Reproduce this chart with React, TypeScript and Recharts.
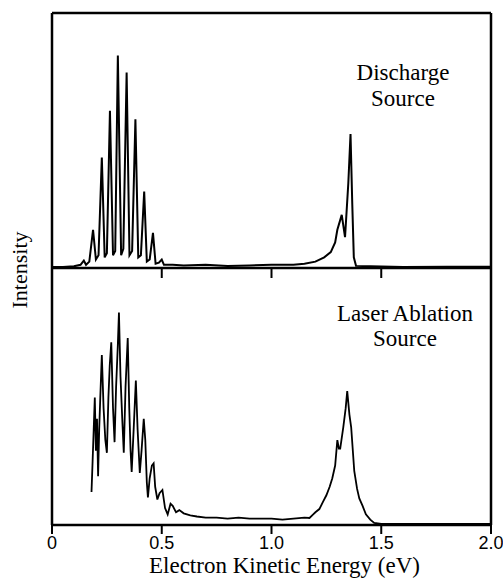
import { LineChart, Line, XAxis, YAxis, ReferenceLine, Label } from "recharts";

// energies in eV, intensities in arbitrary units (tallest peak = 100)
const dischargeEnergy = [
  0, 0.05, 0.1, 0.13, 0.145, 0.155, 0.17, 0.187, 0.2, 0.212, 0.227, 0.24, 0.25,
  0.264, 0.278, 0.288, 0.3, 0.315, 0.325, 0.34, 0.353, 0.365, 0.38, 0.393, 0.405,
  0.42, 0.432, 0.445, 0.46, 0.472, 0.487, 0.5, 0.51, 0.55, 0.6, 0.7, 0.8, 0.9,
  1.0, 1.1, 1.15, 1.2, 1.24, 1.27, 1.29, 1.3, 1.32, 1.335, 1.35, 1.36, 1.368,
  1.375, 1.385, 1.45, 1.6, 1.8, 2.0,
];
const dischargeIntensity = [
  0.5, 0.5, 0.8, 1.5, 3.5, 1.5, 3, 18, 4, 6, 52, 5, 7, 74, 6, 8, 100, 6, 9, 92,
  6, 8, 70, 5, 6, 36, 3, 4, 16.5, 2, 2.5, 4, 1.5, 1.5, 1.2, 1.5, 1.0, 1.2, 1.5,
  1.5, 2, 3, 5, 7.5, 12, 18, 25, 14.5, 40, 63, 30, 5, 1, 0.8, 0.5, 0.6, 0.6,
];

const ablationEnergy = [
  0.18, 0.185, 0.19, 0.195, 0.2, 0.205, 0.21, 0.215, 0.22, 0.227, 0.235, 0.243,
  0.25, 0.257, 0.263, 0.27, 0.278, 0.285, 0.292, 0.3, 0.305, 0.312, 0.32, 0.327,
  0.335, 0.345, 0.352, 0.358, 0.363, 0.372, 0.382, 0.39, 0.4, 0.408, 0.418,
  0.425, 0.432, 0.437, 0.445, 0.455, 0.463, 0.47, 0.48, 0.49, 0.503, 0.515,
  0.527, 0.54, 0.55, 0.565, 0.58, 0.6, 0.63, 0.66, 0.7, 0.75, 0.8, 0.85, 0.9,
  0.95, 1.0, 1.05, 1.1, 1.15, 1.173, 1.19, 1.2, 1.218, 1.235, 1.25, 1.265,
  1.277, 1.29, 1.3, 1.307, 1.313, 1.327, 1.338, 1.345, 1.355, 1.363, 1.377,
  1.39, 1.4, 1.415, 1.43, 1.45, 1.468, 1.5, 1.6, 1.8, 2.0,
];
const ablationIntensity = [
  15.5, 30, 45, 60, 35, 50, 23, 45, 60, 80, 55, 40, 34, 60, 75, 86, 55, 39, 65,
  85, 100, 70, 50, 34, 65, 88, 55, 35, 25, 45, 68, 45, 24.5, 35, 50, 40, 20, 13,
  22, 28, 29, 18, 12, 15, 16.5, 8, 5, 10, 9, 6, 7, 5.5, 4.5, 4, 3.5, 3.5, 3,
  3.5, 3, 3, 3, 2.5, 3, 3.5, 3.3, 5, 6, 7.5, 11, 14, 18, 22, 28, 40, 36, 36, 46,
  55, 63, 52, 46, 25.5, 17, 12.5, 9, 5, 2.5, 1, 0.5, 0.5, 0.5, 0.5,
];

const xTicks = [0, 0.5, 1, 1.5, 2];
const xTickLabels = ["0", "0.5", "1.0", "1.5", "2.0"];

const dischargeData = dischargeEnergy.map((e, i) => ({ e, v: dischargeIntensity[i] }));
const ablationData = ablationEnergy.map((e, i) => ({ e, v: ablationIntensity[i] }));

const serif = "'Liberation Serif', 'Times New Roman', serif";
const sans = "'Liberation Sans', Arial, sans-serif";
const frame = { stroke: "#000", strokeWidth: 2.5 };

export default function App() {
  return (
    <div style={{ position: "absolute", left: 0, top: 0, width: 503, height: 579, background: "#fff" }}>
      <div style={{ position: "absolute", left: 0, top: 0 }}>
        <LineChart width={503} height={280} data={dischargeData} margin={{ top: 13, right: 12, bottom: 0, left: 52 }}>
          <XAxis
            dataKey="e"
            type="number"
            domain={[0, 2]}
            ticks={xTicks}
            height={12}
            tickSize={10}
            tickFormatter={() => ""}
            axisLine={frame}
            tickLine={{ stroke: "#000", strokeWidth: 2 }}
          />
          <YAxis hide domain={[0, 120]} />
          <ReferenceLine x={0} {...frame} />
          <ReferenceLine x={2} {...frame} />
          <ReferenceLine y={120} {...frame} />
          <Line dataKey="v" type="linear" stroke="#000" strokeWidth={2} dot={false} isAnimationActive={false} />
        </LineChart>
      </div>
      <div style={{ position: "absolute", left: 0, top: 268 }}>
        <LineChart width={503} height={311} data={ablationData} margin={{ top: 0, right: 12, bottom: 0, left: 52 }}>
          <XAxis
            dataKey="e"
            type="number"
            domain={[0, 2]}
            ticks={xTicks}
            height={54}
            tickSize={9}
            tickFormatter={(v: number) => xTickLabels[xTicks.indexOf(v)]}
            tick={{ fill: "#000", fontSize: 18, fontFamily: sans }}
            axisLine={frame}
            tickLine={{ stroke: "#000", strokeWidth: 2 }}
          >
            <Label
              value="Electron Kinetic Energy (eV)"
              position="insideBottom"
              offset={6}
              dx={13}
              style={{ fill: "#000", fontSize: 23, fontFamily: serif }}
            />
          </XAxis>
          <YAxis hide domain={[0, 121]} />
          <ReferenceLine x={0} {...frame} />
          <ReferenceLine x={2} {...frame} />
          <Line dataKey="v" type="linear" stroke="#000" strokeWidth={1.8} dot={false} isAnimationActive={false} />
        </LineChart>
      </div>
      <div
        style={{
          position: "absolute",
          left: 20,
          top: 270,
          transform: "translate(-50%, -50%) rotate(-90deg)",
          fontFamily: serif,
          fontSize: 22,
          whiteSpace: "nowrap",
        }}
      >
        Intensity
      </div>
      <div style={{ position: "absolute", left: 303, width: 200, top: 60, textAlign: "center", fontFamily: serif, fontSize: 23, lineHeight: "26px" }}>
        Discharge
        <br />
        Source
      </div>
      <div style={{ position: "absolute", left: 305, width: 200, top: 301, textAlign: "center", fontFamily: serif, fontSize: 23, lineHeight: "25px" }}>
        Laser Ablation
        <br />
        Source
      </div>
    </div>
  );
}
